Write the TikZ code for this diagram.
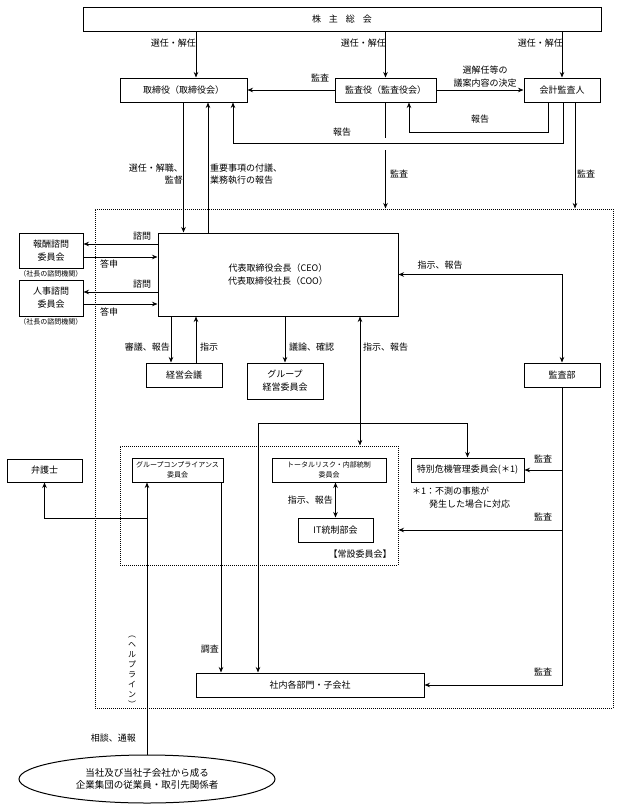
\documentclass[tikz,border=0pt]{standalone}
\usepackage{fontspec}
\setmainfont{Noto Sans CJK JP}
\usetikzlibrary{shapes.geometric,arrows.meta}

\tikzstyle{box} = [rectangle, draw=black, line width=1pt, minimum height=24pt, inner sep=1pt, align=center, font=\fontsize{9pt}{13pt}\selectfont]
\tikzstyle{smallbox} = [box, font=\fontsize{7pt}{10pt}\selectfont]
\tikzstyle{oval} = [ellipse, draw=black, line width=1pt, inner sep=0pt, align=center, font=\fontsize{9.5pt}{11.5pt}\selectfont]
\tikzstyle{dotbox} = [rectangle, draw=black, line width=1pt, densely dotted]
\tikzstyle{lbl} = [inner sep=1pt, font=\fontsize{9pt}{12pt}\selectfont]
\tikzstyle{note} = [inner sep=0pt, font=\fontsize{7pt}{9pt}\selectfont]
\tikzstyle{arrow} = [line width=1pt,->,>={Stealth[length=5.5pt,width=4.5pt]}]
\tikzstyle{both} = [line width=1pt,<->,>={Stealth[length=5.5pt,width=4.5pt]}]
\tikzstyle{line} = [line width=1pt]

\begin{document}
\begin{tikzpicture}[x=1pt, y=-1pt]
\useasboundingbox (0,0) rectangle (619,811);

% frames
\node (naibu) [dotbox, minimum width=518pt, minimum height=499pt] at (354,458.5) {};
\node (josetsu) [dotbox, minimum width=278pt, minimum height=119pt] at (259,505.5) {};

% top
\node (kabunushi) [box, minimum width=518pt] at (342,19) {株\hspace{8pt}主\hspace{8pt}総\hspace{8pt}会};
\node (torishimari) [box, minimum width=127pt] at (183.5,90) {取締役（取締役会）};
\node (kansayaku) [box, minimum width=101pt] at (385.5,90) {監査役（監査役会）};
\node (kaikei) [box, minimum width=76pt] at (562,90) {会計監査人};

% CEO and around
\node (ceo) [box, minimum width=240pt, minimum height=83pt] at (278,274.5) {代表取締役会長（CEO）\\代表取締役社長（COO）};
\node (houshu) [box, minimum width=64pt, minimum height=35pt] at (51,250.5) {報酬諮問\\委員会};
\node (houshunote) [note] at (51,274) {（社長の諮問機関）};
\node (jinji) [box, minimum width=64pt, minimum height=36pt] at (51,298) {人事諮問\\委員会};
\node (jinjinote) [note] at (51,322) {（社長の諮問機関）};
\node (keieikaigi) [box, minimum width=76pt] at (184,375) {経営会議};
\node (groupkeiei) [box, minimum width=76pt, minimum height=36pt] at (285,381) {グループ\\経営委員会};
\node (kansabu) [box, minimum width=76pt] at (562,375) {監査部};

% committees
\node (bengoshi) [box, minimum width=75pt, minimum height=23pt] at (44.5,470.5) {弁護士};
\node (compliance) [smallbox, minimum width=91pt] at (177.5,470) {グループコンプライアンス\\委員会};
\node (totalrisk) [smallbox, minimum width=114pt] at (329,470) {トータルリスク・内部統制\\委員会};
\node (itbukai) [box, minimum width=75pt] at (335.5,530) {IT統制部会};
\node (tokubetsu) [box, minimum width=113pt] at (467.5,470) {特別危機管理委員会(＊1)};
\node (shanai) [box, minimum width=228pt] at (310,685) {社内各部門・子会社};
\node (jugyoin) [oval, minimum width=256pt, minimum height=48pt] at (147,779) {当社及び当社子会社から成る\\企業集団の従業員・取引先関係者};

% bend points
\coordinate (selA) at (196,55);
\coordinate (kgap) at (385.5,150);
\coordinate (rptA) at (548,132);
\coordinate (rptA2) at (409,132);
\coordinate (rptB) at (563,143);
\coordinate (rptB2) at (233,143);
\coordinate (fugi) at (208,170);
\coordinate (kaudit) at (575,170);
\coordinate (shimon1) at (120,244);
\coordinate (toshin1) at (120,257);
\coordinate (shimon2) at (120,292);
\coordinate (toshin2) at (120,304);
\coordinate (shingi) at (171,340);
\coordinate (shiji2) at (196,340);
\coordinate (shiji3) at (360,400);
\coordinate (bunki) at (258,423);
\coordinate (kansaB) at (562,530);
\coordinate (chosa) at (221,600);
\coordinate (soudan) at (146,518);

% connectors
\draw [arrow] (kabunushi.south -| selA) -- (torishimari.north -| selA);
\draw [arrow] (kabunushi.south -| kansayaku.north) -- (kansayaku.north);
\draw [arrow] (kabunushi.south -| kaikei.north) -- (kaikei.north);
\draw [arrow] (kansayaku.west) -- (torishimari.east);
\draw [arrow] (kansayaku.east) -- (kaikei.west);
\draw [line] (kansayaku.south) -- ++(0,35);
\draw [arrow] (kgap) -- (naibu.north -| kgap);
\draw [arrow] (kaikei.south -| rptA) -- (rptA) -- (rptA2) -- (kansayaku.south -| rptA2);
\draw [arrow] (kaikei.south -| rptB) -- (rptB) -- (rptB2) -- (torishimari.south -| rptB2);
\draw [arrow] (torishimari.south) -- (torishimari.south |- ceo.north);
\draw [arrow] (ceo.north -| fugi) -- (torishimari.south -| fugi);
\draw [arrow] (kaikei.south -| kaudit) -- (naibu.north -| kaudit);

\draw [arrow] (ceo.west |- shimon1) -- (houshu.east |- shimon1);
\draw [arrow] (houshu.east |- toshin1) -- (ceo.west |- toshin1);
\draw [arrow] (ceo.west |- shimon2) -- (jinji.east |- shimon2);
\draw [arrow] (jinji.east |- toshin2) -- (ceo.west |- toshin2);
\draw [both] (ceo.east) -| (kansabu.north);
\draw [arrow] (ceo.south -| shingi) -- (keieikaigi.north -| shingi);
\draw [arrow] (keieikaigi.north -| shiji2) -- (ceo.south -| shiji2);
\draw [arrow] (ceo.south -| groupkeiei.north) -- (groupkeiei.north);
\draw [both] (ceo.south -| shiji3) -- (josetsu.north -| shiji3);
\draw [both] (shanai.north -| bunki) -- (bunki) -| (tokubetsu.north);

\draw [arrow] (kansabu.south) |- (shanai.east);
\draw [arrow] (kansabu.south |- tokubetsu.east) -- (tokubetsu.east);
\draw [arrow] (kansabu.south |- kansaB) -- (josetsu.east |- kansaB);
\draw [both] (totalrisk.south -| itbukai.north) -- (itbukai.north);
\draw [arrow] (compliance.south -| chosa) -- (shanai.north -| chosa);
\draw [arrow] (jugyoin.north) -- (jugyoin.north |- compliance.south);
\draw [arrow] (jugyoin.north |- soudan) -| (bengoshi.south);

% labels
\node (senin1) [lbl, anchor=east] at (197,43) {選任・解任};
\node (senin2) [lbl, anchor=east] at (387,43) {選任・解任};
\node (senin3) [lbl, anchor=east] at (564,43) {選任・解任};
\node (kansaL1) [lbl] at (320,78) {監査};
\node (gianL) [lbl, align=center, font=\fontsize{9pt}{13pt}\selectfont] at (485,76.5) {選解任等の\\議案内容の決定};
\node (hokokuL1) [lbl] at (480,119) {報告};
\node (hokokuL2) [lbl] at (342,132) {報告};
\node (senninL) [lbl, anchor=east, align=right] at (184,174) {選任・解職、\\監督};
\node (fugiL) [lbl, anchor=west, align=left] at (209,174) {重要事項の付議、\\業務執行の報告};
\node (kansaL2) [lbl] at (399,174) {監査};
\node (kansaL3) [lbl] at (586,174) {監査};
\node (shimonL1) [lbl] at (142,236) {諮問};
\node (toshinL1) [lbl] at (109,264) {答申};
\node (shimonL2) [lbl] at (142,284) {諮問};
\node (toshinL2) [lbl] at (109,312) {答申};
\node (shijiL1) [lbl] at (440,265) {指示、報告};
\node (shingiL) [lbl, anchor=east] at (171,347) {審議、報告};
\node (shijiL2) [lbl, anchor=west] at (199,347) {指示};
\node (gironL) [lbl, anchor=west] at (288,347) {議論、確認};
\node (shijiL3) [lbl, anchor=west] at (362,347) {指示、報告};
\node (kansaL4) [lbl] at (543,459) {監査};
\node (chukiL1) [lbl, anchor=west] at (411,491) {＊1：不測の事態が};
\node (chukiL2) [lbl, anchor=west] at (428,504) {発生した場合に対応};
\node (kansaL5) [lbl] at (543,517) {監査};
\node (shijiL4) [lbl, anchor=east] at (334,500) {指示、報告};
\node (josetsuL) [lbl] at (360,554) {【常設委員会】};
\node (chosaL) [lbl, anchor=east] at (220,649) {調査};
\node (kansaL6) [lbl] at (543,672) {監査};
\node (soudanL) [lbl, anchor=east] at (137,738) {相談、通報};
\node (helpL) [inner sep=0pt, align=center, font=\fontsize{8pt}{10pt}\selectfont] at (132,672) {︵\\ヘ\\ル\\プ\\ラ\\イ\\ン\\︶};

\end{tikzpicture}
\end{document}
